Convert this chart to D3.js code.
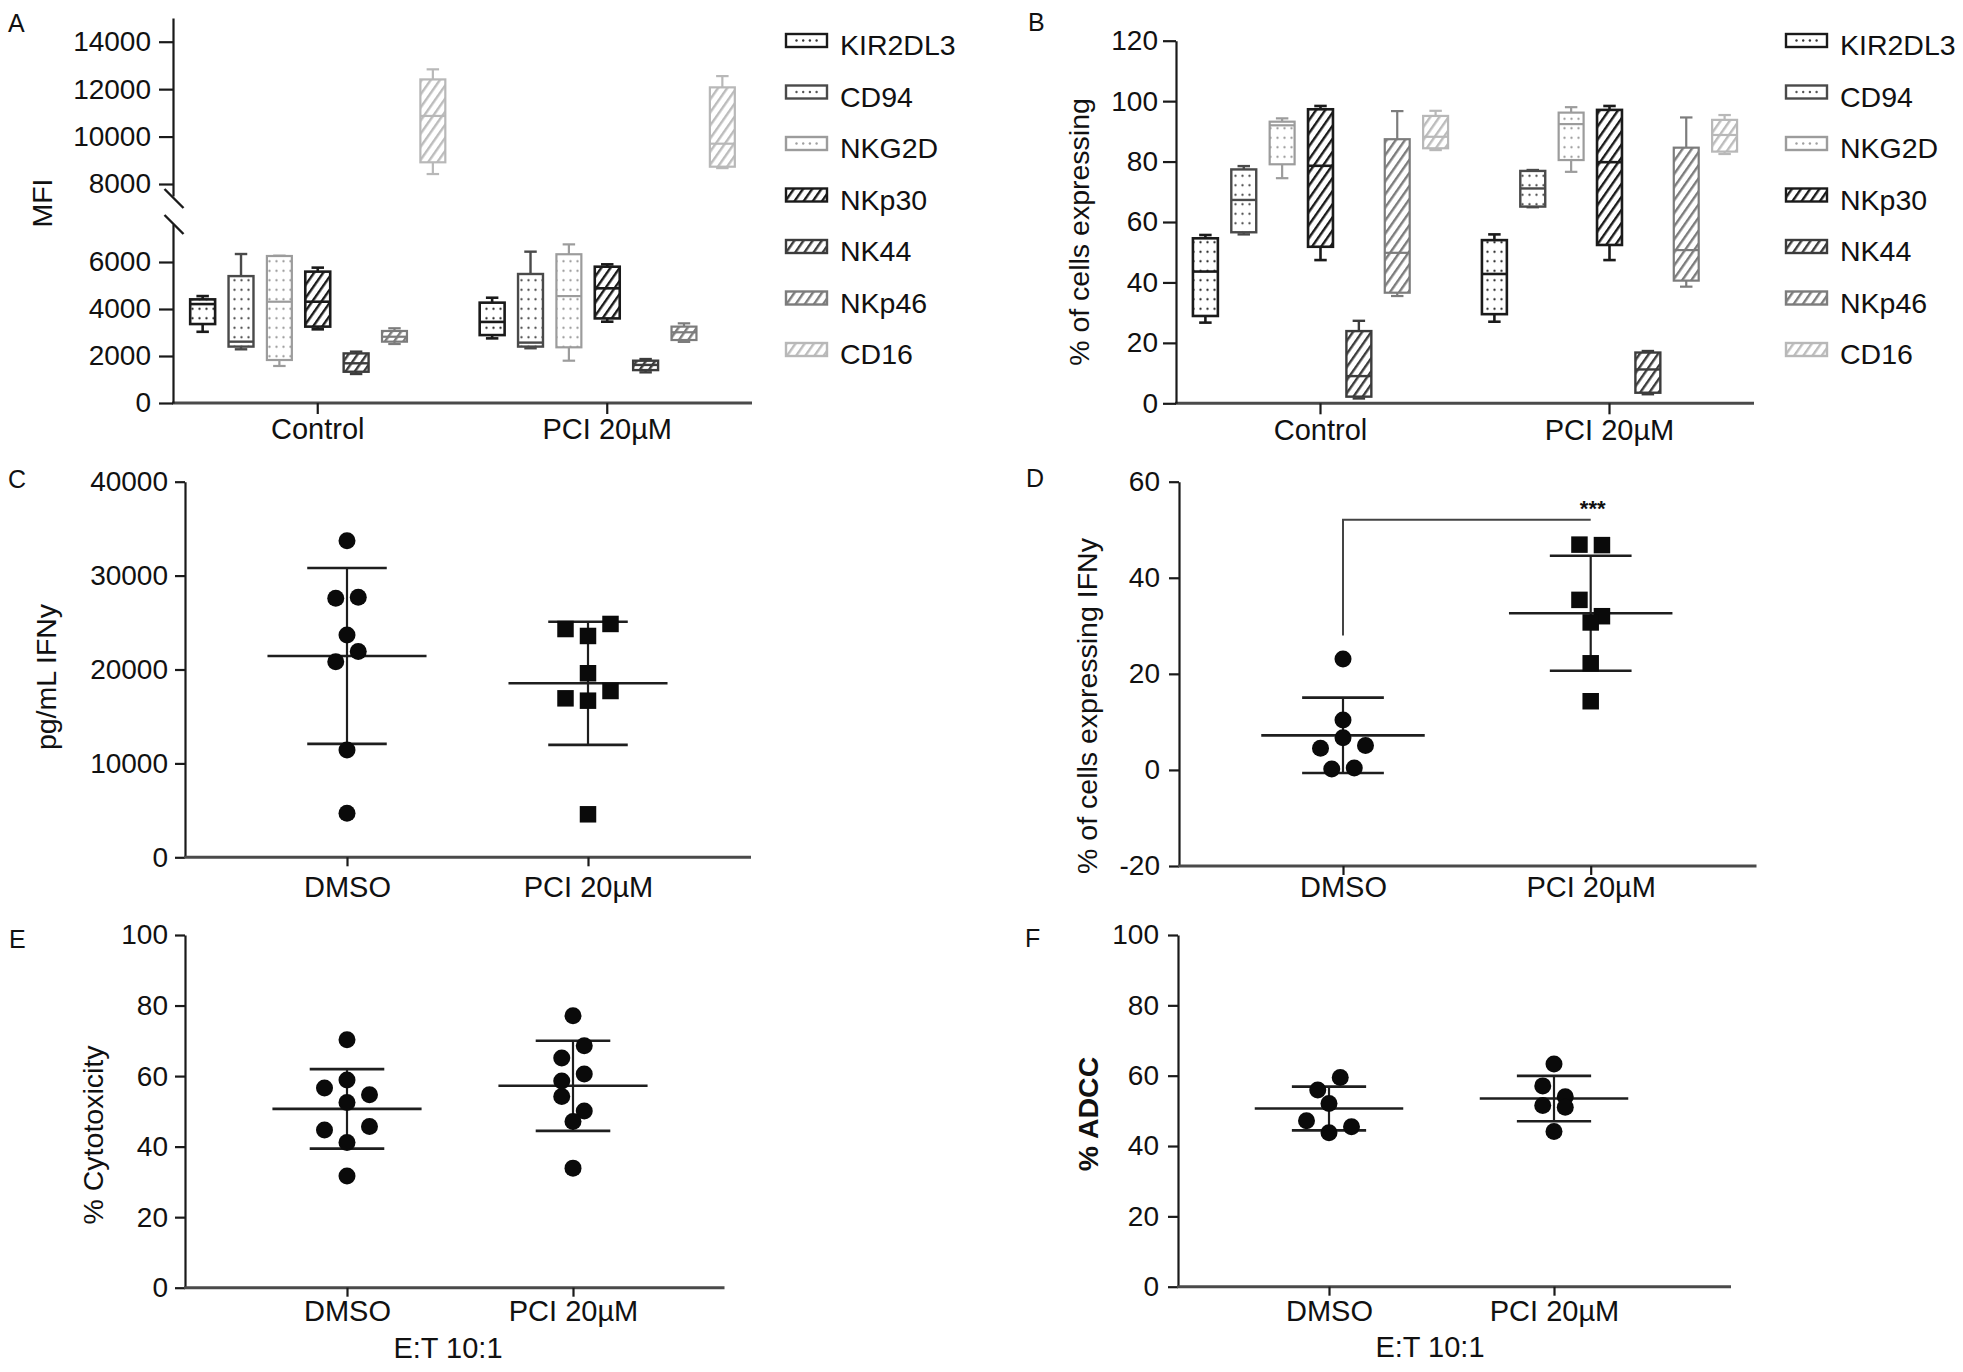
<!DOCTYPE html>
<html><head><meta charset="utf-8">
<script src="https://cdn.jsdelivr.net/npm/d3@7/dist/d3.min.js"></script>
<style>
html,body{margin:0;padding:0;background:#fff;overflow:hidden;}
</style></head><body>
<svg id="fig" width="1963" height="1372" xmlns="http://www.w3.org/2000/svg"></svg>
<script>
// ================= DATA =================
const markers = ["KIR2DL3","CD94","NKG2D","NKp30","NK44","NKp46","CD16"];
const groupsAB = ["Control","PCI 20µM"];
// box stats: [whisker low, Q1, median, Q3, whisker high]
const mfiControl = [
  [3030,3360,4210,4410,4550],
  [2285,2400,2610,5400,6340],
  [1575,1830,4310,6255,6270],
  [3135,3250,4310,5590,5760],
  [1235,1330,1690,2110,2185],
  [2510,2610,2820,3065,3180],
  [8420,8915,10870,12410,12835]
];
const mfiPCI = [
  [2750,2890,3450,4270,4480],
  [2330,2400,2570,5490,6440],
  [1800,2370,4550,6330,6750],
  [3460,3600,4880,5800,5900],
  [1305,1400,1620,1800,1870],
  [2600,2680,3010,3250,3390],
  [8670,8730,9700,12075,12550]
];
const pctControl = [
  [26.7,28.9,43.6,54.6,55.7],
  [55.9,56.6,67.3,77.4,78.5],
  [74.5,79.1,92.0,93.2,94.3],
  [47.4,51.8,78.6,97.3,98.4],
  [1.6,2.2,9.0,23.9,27.3],
  [35.5,36.6,49.8,87.4,96.7],
  [83.8,84.4,88.2,95.1,96.8]
];
const pctPCI = [
  [27.0,29.5,42.8,54.0,55.9],
  [64.9,65.1,71.1,76.9,77.2],
  [76.6,80.5,92.4,96.2,98.0],
  [47.4,52.4,79.8,97.1,98.4],
  [3.0,3.5,11.2,16.8,17.3],
  [38.6,40.6,50.7,84.6,94.6],
  [82.5,83.3,88.8,93.8,95.4]
];
const mfiTicksLow = [0,2000,4000,6000];
const mfiTicksHigh = [8000,10000,12000,14000];
const pctTicks = [0,20,40,60,80,100,120];

const groupsCD = ["DMSO","PCI 20µM"];
const ifngPgDMSO = [33720,27580,27690,23670,20830,21910,11430,4690];
const ifngPgPCI  = [24310,23570,24850,19600,16930,16680,17710,4580];
const ifngPgTicks = [0,10000,20000,30000,40000];

const ifngPctDMSO = [23.1,10.4,4.5,6.7,5.1,0.2,0.4];
const ifngPctPCI  = [46.9,46.8,35.4,32.0,30.7,22.2,14.3];
const ifngPctTicks = [-20,0,20,40,60];
const sigPair = ["DMSO","PCI 20µM"];
const sigLevels = [52.1, 28];   // bracket level, left drop end
const sigLabel = "***";

const cytoDMSO = [70.3,56.6,58.9,54.7,52.5,44.7,41.2,45.7,31.7];
const cytoPCI  = [77.1,65.1,68.6,58.6,60.6,54.2,50.1,47.1,33.9];
const adccDMSO = [55.9,59.5,52.1,47.2,43.8,45.5];
const adccPCI  = [63.3,57.1,54.0,51.5,51.0,44.1];
const pct100Ticks = [0,20,40,60,80,100];

// ================= STYLE / LAYOUT =================
const FONT = '"Liberation Sans", Arial, Helvetica, sans-serif';
const INK = '#111';
const svg = d3.select('#fig');
svg.append('rect').attr('width',1963).attr('height',1372).attr('fill','#fff');
const defs = svg.append('defs');

const styles = {
  KIR2DL3:{type:'dot',  stroke:'#1a1a1a', fg:'#333', sw:2.6},
  CD94:   {type:'dot',  stroke:'#4a4a4a', fg:'#555', sw:2.4},
  NKG2D:  {type:'dot',  stroke:'#9c9c9c', fg:'#a0a0a0', sw:2.2},
  NKp30:  {type:'hatch',stroke:'#1a1a1a', fg:'#1a1a1a', sw:2.6},
  NK44:   {type:'hatch',stroke:'#3c3c3c', fg:'#3c3c3c', sw:2.4},
  NKp46:  {type:'hatch',stroke:'#7c7c7c', fg:'#7c7c7c', sw:2.2},
  CD16:   {type:'hatch',stroke:'#b8b8b8', fg:'#bcbcbc', sw:2.2}
};
markers.forEach((m,i)=>{
  const s = styles[m];
  const p = defs.append('pattern').attr('id','pat'+i).attr('patternUnits','userSpaceOnUse');
  if(s.type==='dot'){
    p.attr('width',7).attr('height',9.5);
    p.append('rect').attr('width',7).attr('height',9.5).attr('fill','#fff');
    p.append('circle').attr('cx',3.5).attr('cy',4.75).attr('r',1.2).attr('fill',s.fg);
  } else {
    p.attr('width',7.5).attr('height',7.5).attr('patternTransform','rotate(35)');
    p.append('rect').attr('width',7.5).attr('height',7.5).attr('fill','#fff');
    p.append('rect').attr('width',2.4).attr('height',7.5).attr('fill',s.fg);
  }
});

function yAxis(g, scale, ticks, x, size, pad){
  const a = g.append('g').attr('transform',`translate(${x},0)`)
    .call(d3.axisLeft(scale).tickValues(ticks).tickSize(size).tickPadding(pad)
      .tickSizeOuter(0).tickFormat(d=>String(d)));
  a.attr('font-family',FONT).attr('font-size',28).attr('color','#1a1a1a');
  a.select('.domain').attr('stroke-width',2.2);
  a.selectAll('.tick line').attr('stroke-width',2.2);
  a.selectAll('.tick text').attr('fill',INK);
  return a;
}
function xAxisLine(g, x0, x1, y){
  g.append('line').attr('x1',x0-1).attr('x2',x1).attr('y1',y).attr('y2',y)
    .attr('stroke','#4a4a4a').attr('stroke-width',3);
}
function xCatAxis(g, scale, y, tick, off){
  const a = g.append('g').attr('transform',`translate(0,${y})`)
    .call(d3.axisBottom(scale).tickSize(tick).tickSizeOuter(0));
  a.select('.domain').remove();
  a.attr('font-family',FONT).attr('font-size',29).attr('color','#1a1a1a');
  a.selectAll('.tick line').attr('stroke-width',2.2);
  a.selectAll('.tick text').attr('y',off).attr('dy',null).attr('fill',INK);
}
function vTitle(g, txt, bx, cy, bold){
  g.append('text').attr('transform',`translate(${bx},${cy}) rotate(-90)`)
    .attr('text-anchor','middle').attr('font-family',FONT).attr('font-size',28.5)
    .attr('font-weight',bold?'bold':null).attr('fill',INK).text(txt);
}
function letter(g, t, x, y){
  g.append('text').attr('x',x).attr('y',y).attr('font-family',FONT).attr('font-size',25)
    .attr('fill',INK).text(t);
}

// ---------- box panels ----------
function drawBoxPanel(cfg){
  const g = svg.append('g');
  const xg = d3.scaleBand().domain(groupsAB).range([cfg.axisX, cfg.xEnd]);
  const xi = d3.scaleBand().domain(markers).range([-141,141]).padding(0.35);
  const bw = xi.bandwidth();
  groupsAB.forEach((grp,gi)=>{
    cfg.data[gi].forEach((st,mi)=>{
      const m = markers[mi], s = styles[m];
      const cx = xg(grp) + xg.bandwidth()/2 + xi(m) + bw/2;
      const [lo,q1,med,q3,hi] = st.map(cfg.y);
      const bg = g.append('g').attr('stroke',s.stroke).attr('stroke-width',s.sw).attr('fill','none');
      bg.append('line').attr('x1',cx).attr('x2',cx).attr('y1',hi).attr('y2',q3);
      bg.append('line').attr('x1',cx).attr('x2',cx).attr('y1',q1).attr('y2',lo);
      bg.append('line').attr('x1',cx-bw/4).attr('x2',cx+bw/4).attr('y1',hi).attr('y2',hi);
      bg.append('line').attr('x1',cx-bw/4).attr('x2',cx+bw/4).attr('y1',lo).attr('y2',lo);
      bg.append('rect').attr('x',cx-bw/2).attr('y',q3).attr('width',bw).attr('height',Math.max(1,q1-q3))
        .attr('fill',`url(#pat${mi})`);
      bg.append('line').attr('x1',cx-bw/2).attr('x2',cx+bw/2).attr('y1',med).attr('y2',med);
    });
  });
  xAxisLine(g, cfg.axisX, cfg.xEnd, cfg.yBottom);
  xCatAxis(g, xg, cfg.yBottom, 11, cfg.catOff);
  // legend
  const lg = g.append('g');
  markers.forEach((m,i)=>{
    const s = styles[m];
    const base = 55 + i*51.5;
    const top = base - 21;
    const r = lg.append('rect').attr('x',cfg.legX).attr('y',top).attr('width',41).attr('height',13)
      .attr('stroke',s.stroke).attr('stroke-width',2.4);
    if(s.type==='dot'){
      r.attr('fill','#fff');
      lg.selectAll(null).data(d3.range(4)).enter().append('circle')
        .attr('cx',k=>cfg.legX+10.5+k*6.7).attr('cy',top+6.5).attr('r',1.2).attr('fill',s.fg);
    } else r.attr('fill',`url(#pat${i})`);
    lg.append('text').attr('x',cfg.legX+54).attr('y',base).attr('font-family',FONT)
      .attr('font-size',28.5).attr('fill',INK).text(m);
  });
  return g;
}

// Panel A (broken axis)
const yLow = d3.scaleLinear().domain([0,7617]).range([403,224]);
const yHigh = d3.scaleLinear().domain([7494,15000]).range([196,18]);
const yA = v => v < 7550 ? yLow(v) : yHigh(v);
const gA = drawBoxPanel({axisX:173, xEnd:752, yBottom:403, catOff:36, legX:786,
  data:[mfiControl, mfiPCI], y:yA});
yAxis(gA, yLow, mfiTicksLow, 173, 14, 8);
yAxis(gA, yHigh, mfiTicksHigh, 173, 14, 8);
[[198.5],[224.5]].forEach(([c])=>{
  gA.append('line').attr('x1',164.5).attr('x2',183.5).attr('y1',c-9.5).attr('y2',c+9.5)
    .attr('stroke','#1a1a1a').attr('stroke-width',2.4);
});
vTitle(gA,'MFI',52,203,false);
letter(gA,'A',8,32);

// Panel B
const yB = d3.scaleLinear().domain([0,120]).range([403.3,40.7]);
const gB = drawBoxPanel({axisX:1176, xEnd:1754, yBottom:403.3, catOff:37, legX:1786,
  data:[pctControl, pctPCI], y:yB});
yAxis(gB, yB, pctTicks, 1176, 13, 5);
vTitle(gB,'% of cells expressing',1089,232,false);
letter(gB,'B',1028,31);

// ---------- scatter panels ----------
function swarm(vals, y, slot, thresh){
  const idx = vals.map((v,i)=>i).sort((a,b)=>vals[b]-vals[a]);
  const off = new Array(vals.length).fill(0);
  let row = [], startY = null;
  const flush = ()=>{
    const r = row.slice().sort((a,b)=>a-b);
    r.forEach((k,j)=>{ off[k] = (j-(r.length-1)/2)*slot; });
    row = [];
  };
  idx.forEach(k=>{
    const py = y(vals[k]);
    if(row.length && py-startY < thresh) row.push(k);
    else { if(row.length) flush(); row=[k]; startY=py; }
  });
  if(row.length) flush();
  return off;
}
function drawScatter(cfg){
  const g = svg.append('g');
  const y = d3.scaleLinear().domain(cfg.dom).range([cfg.yBottom, cfg.yTop]);
  const x = d3.scalePoint().domain(groupsCD).range(cfg.catX);
  const step = cfg.catX[1]-cfg.catX[0];
  yAxis(g, y, cfg.ticks, cfg.axisX, 10, cfg.pad);
  xAxisLine(g, cfg.axisX, cfg.xEnd, cfg.yBottom);
  xCatAxis(g, x, cfg.yBottom, 9, cfg.catOff);
  groupsCD.forEach((grp,gi)=>{
    const vals = cfg.data[gi];
    const cx = x(grp);
    const m = d3.mean(vals), sd = d3.deviation(vals);
    const lg = g.append('g').attr('stroke','#1e1e1e');
    lg.append('line').attr('x1',cx).attr('x2',cx).attr('y1',y(m+sd)).attr('y2',y(m-sd)).attr('stroke-width',2.2);
    lg.append('line').attr('x1',cx-0.33*step).attr('x2',cx+0.33*step).attr('y1',y(m)).attr('y2',y(m)).attr('stroke-width',2.6);
    [m+sd, m-sd].forEach(v=>{
      lg.append('line').attr('x1',cx-0.165*step).attr('x2',cx+0.165*step).attr('y1',y(v)).attr('y2',y(v)).attr('stroke-width',2.6);
    });
    const off = swarm(vals, y, 22.5, 16.5);
    const sym = d3.symbol().type(gi===0 ? d3.symbolCircle : (cfg.squares ? d3.symbolSquare : d3.symbolCircle))
      .size(gi===0 || !cfg.squares ? 227 : 272);
    g.append('g').selectAll('path').data(vals).enter().append('path')
      .attr('d',sym).attr('fill','#0a0a0a')
      .attr('transform',(v,i)=>`translate(${cx+off[i]},${y(v)})`);
  });
  if(cfg.sub){
    g.append('text').attr('x',cfg.sub[1]).attr('y',cfg.sub[2]).attr('text-anchor','middle')
      .attr('font-family',FONT).attr('font-size',29).attr('fill',INK).text(cfg.sub[0]);
  }
  vTitle(g, cfg.title, cfg.titleX, cfg.titleY, cfg.bold);
  letter(g, cfg.letter, cfg.letterX, cfg.letterY);
  return {g, x, y};
}

drawScatter({axisX:185, xEnd:751, yBottom:857.3, yTop:481.7, dom:[0,40000], ticks:ifngPgTicks,
  catX:[347,588], pad:7, catOff:40, squares:true, data:[ifngPgDMSO, ifngPgPCI],
  title:'pg/mL IFNy', titleX:56, titleY:677, letter:'C', letterX:8, letterY:488});

const pD = drawScatter({axisX:1179, xEnd:1756.5, yBottom:866, yTop:481.7, dom:[-20,60], ticks:ifngPctTicks,
  catX:[1343,1590.7], pad:9, catOff:31, squares:true, data:[ifngPctDMSO, ifngPctPCI],
  title:'% of cells expressing IFNy', titleX:1097, titleY:706, letter:'D', letterX:1026, letterY:487});
// significance bracket
{
  const x1 = pD.x(sigPair[0]), x2 = pD.x(sigPair[1]);
  const yl = pD.y(sigLevels[0]), yd = pD.y(sigLevels[1]);
  pD.g.append('path').attr('d',`M${x1},${yd}V${yl}H${x2}`).attr('fill','none')
    .attr('stroke','#444').attr('stroke-width',2);
  pD.g.append('text').attr('x',x2+2).attr('y',yl-4).attr('text-anchor','middle')
    .attr('font-family',FONT).attr('font-size',22).attr('font-weight','bold').attr('fill',INK).text(sigLabel);
}

drawScatter({axisX:185, xEnd:724.5, yBottom:1287.7, yTop:935, dom:[0,100], ticks:pct100Ticks,
  catX:[347,573], pad:7, catOff:33, squares:false, data:[cytoDMSO, cytoPCI],
  sub:['E:T 10:1',448,1358],
  title:'% Cytotoxicity', titleX:103, titleY:1135, letter:'E', letterX:9, letterY:948});

drawScatter({axisX:1178, xEnd:1731, yBottom:1286.7, yTop:935, dom:[0,100], ticks:pct100Ticks,
  catX:[1329,1554], pad:9, catOff:34, squares:false, data:[adccDMSO, adccPCI],
  sub:['E:T 10:1',1430,1357], bold:true,
  title:'% ADCC', titleX:1098, titleY:1114, letter:'F', letterX:1025, letterY:947});
</script></body></html>
